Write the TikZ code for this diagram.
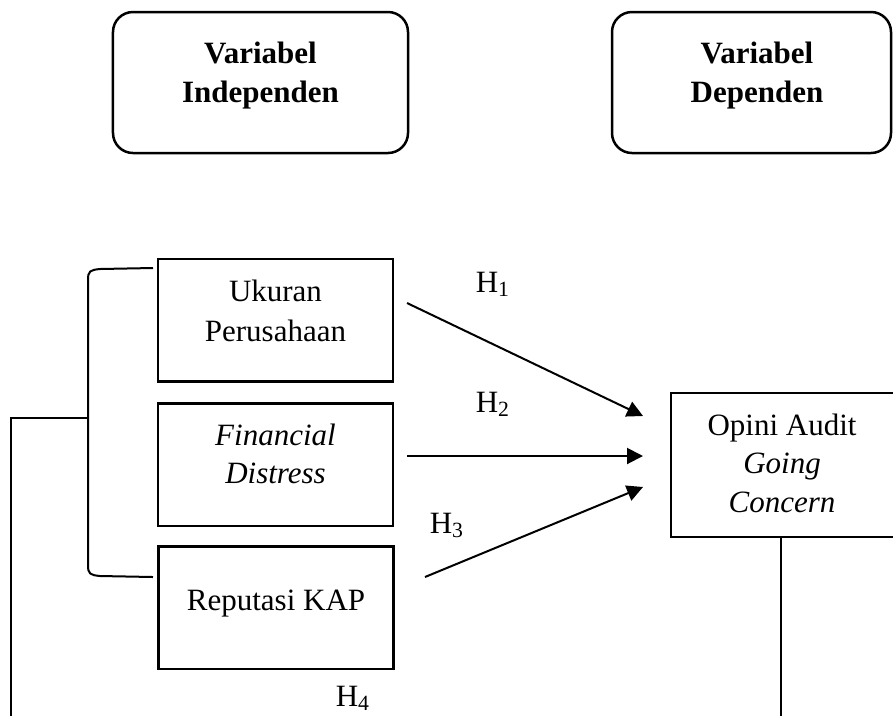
\documentclass[tikz,border=0pt]{standalone}
\usepackage{fontspec}
\setmainfont{Liberation Serif}
\usetikzlibrary{arrows.meta}
\begin{document}
\begin{tikzpicture}[x=0.4pt,y=-0.4pt,
  box/.style={draw,line width=1pt,inner sep=0pt,outer sep=0pt},
  rbox/.style={box,rounded corners=8pt,minimum height=56.4pt},
  vbox/.style={box,minimum width=94pt,minimum height=49pt},
  txt/.style={anchor=base,inner sep=0pt,font=\fontsize{12.4}{15}\selectfont},
  btxt/.style={txt,font=\fontsize{12.4}{15}\selectfont\bfseries},
  conn/.style={line width=0.8pt},
  arr/.style={conn,-{Triangle[length=6.4pt,width=6.4pt]}}]
\useasboundingbox (0,0) rectangle (893,715);
% header boxes
\node[rbox,minimum width=118pt] (indep) at (260.5,82.5) {};
\node[btxt] (indepA) at (260.5,63) {Variabel};
\node[btxt] (indepB) at (260.5,102) {Independen};
\node[rbox,minimum width=111.6pt] (dep) at (751.5,82.5) {};
\node[btxt] (depA) at (757,63) {Variabel};
\node[btxt] (depB) at (757,102) {Dependen};
% variable boxes
\node[vbox] (uk) at (275.5,320) {};
\node[txt] (ukA) at (275.5,301) {Ukuran};
\node[txt] (ukB) at (275.5,341) {Perusahaan};
\node[vbox] (fd) at (275.5,464.5) {};
\node[txt] (fdA) at (275.5,445) {\itshape Financial};
\node[txt] (fdB) at (275.5,483) {\itshape Distress};
\node[vbox] (rk) at (276,607.5) {};
\node[txt] (rkA) at (276,610) {Reputasi KAP};
\node[box,minimum width=89.6pt,minimum height=57.6pt] (op) at (783,465) {};
\node[txt] (opA) at (782,435) {Opini Audit};
\node[txt] (opB) at (782,473) {\itshape Going};
\node[txt] (opC) at (782,512) {\itshape Concern};
% arrows
\coordinate (s1) at (407,303); \coordinate (t1) at (643,416);
\coordinate (s2) at (407,456); \coordinate (t2) at (643,456);
\coordinate (s3) at (425,577); \coordinate (t3) at (643,487);
\draw[arr] (s1) -- (t1);
\draw[arr] (s2) -- (t2);
\draw[arr] (s3) -- (t3);
\node[txt] (h1) at (493,292) {H\textsubscript{1}};
\node[txt] (h2) at (493,412) {H\textsubscript{2}};
\node[txt] (h3) at (447,533) {H\textsubscript{3}};
\node[txt] (h4) at (353,706) {H\textsubscript{4}};
% bracket
\coordinate (bt) at (153,268);
\coordinate (bb) at (153,577);
\coordinate (bm) at (88,418);
\draw[conn] (bt) -- (100,269) .. controls (90,270) and (88,271) .. (88,280)
  -- (88,565) .. controls (88,574) and (90,575) .. (100,576) -- (bb);
\coordinate (lb) at (11,730);
\draw[conn] (bm) -- (lb |- bm) -- (lb);
\coordinate (rb) at (781,730);
\draw[conn] (rb |- op.south) -- (rb);
\end{tikzpicture}
\end{document}
